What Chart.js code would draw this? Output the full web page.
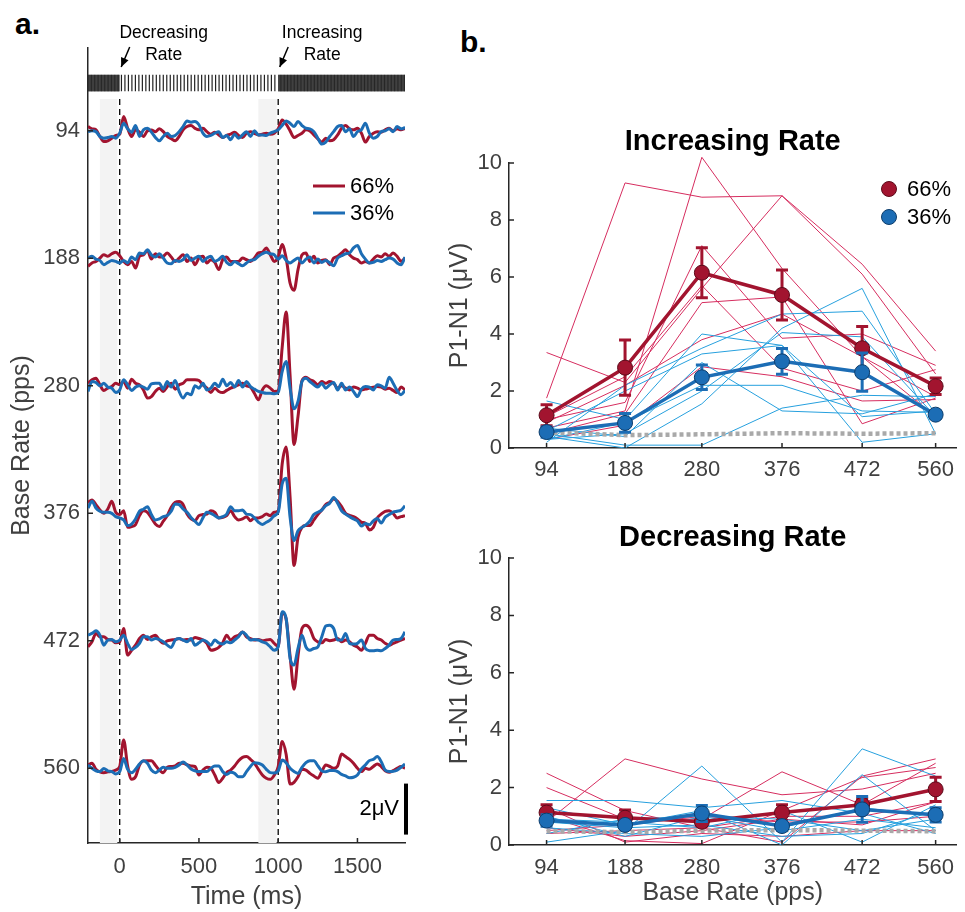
<!DOCTYPE html>
<html>
<head>
<meta charset="utf-8">
<script src="https://cdn.jsdelivr.net/npm/chart.js@4.4.0/dist/chart.umd.min.js"></script>
<style>
  body { margin: 0; background: #fff; width: 965px; height: 912px; position: relative; overflow: hidden;
         font-family: 'Liberation Sans', Arial, Helvetica, sans-serif; }
  canvas { position: absolute; }
  .panel-letter { position: absolute; font-weight: bold; font-size: 30px; line-height: 30px; color: #000; }
</style>
</head>
<body>
<div class="panel-letter" style="left:15px;top:9px">a.</div>
<div class="panel-letter" style="left:460px;top:27px">b.</div>
<canvas id="traces" width="420" height="912" style="left:0;top:0"></canvas>
<canvas id="incChart" width="545" height="490" style="left:420px;top:0"></canvas>
<canvas id="decChart" width="545" height="422" style="left:420px;top:490px"></canvas>
<script>
// ---------- panel a: averaged responses (uV), sampled every 25 ms ----------
const timeMs = [
  -200, -175, -150, -125, -100, -75, -50, -25,
  0, 25, 50, 75, 100, 125, 150, 175,
  200, 225, 250, 275, 300, 325, 350, 375,
  400, 425, 450, 475, 500, 525, 550, 575,
  600, 625, 650, 675, 700, 725, 750, 775,
  800, 825, 850, 875, 900, 925, 950, 975,
  1000, 1025, 1050, 1075, 1100, 1125, 1150, 1175,
  1200, 1225, 1250, 1275, 1300, 1325, 1350, 1375,
  1400, 1425, 1450, 1475, 1500, 1525, 1550, 1575,
  1600, 1625, 1650, 1675, 1700, 1725, 1750, 1775,
  1800
];
const rowRates = ['94', '188', '280', '376', '472', '560'];
const rowOffsets = [25, 20, 15, 10, 5, 0];
const timeTicks = [0, 500, 1000, 1500];

const erp94_66 = [
  0.17, 0.08, 0.04, -0.22, -0.42, -0.39, -0.29, -0.18,
  -0.13, 0.56, 0.10, -0.22, 0.04, -0.05, -0.22, 0.00,
  0.03, -0.03, 0.08, -0.03, -0.22, -0.31, -0.39, -0.22,
  0.04, 0.17, 0.21, 0.10, 0.04, 0.10, -0.03, -0.13,
  -0.05, -0.16, -0.26, -0.18, -0.13, -0.05, -0.18, -0.26,
  -0.09, -0.03, -0.10, -0.16, -0.13, -0.09, -0.13, -0.09,
  0.08, 0.43, 0.26, 0.00, -0.26, -0.18, -0.09, 0.04,
  0.00, -0.16, -0.31, -0.44, -0.29, -0.39, -0.35, -0.16,
  0.10, 0.21, 0.08, 0.04, 0.10, -0.09, -0.44, -0.22,
  -0.09, -0.03, -0.05, 0.04, 0.10, 0.00, 0.08, 0.04,
  0.10
];
const erp94_36 = [
  -0.03, 0.00, -0.03, -0.22, -0.29, -0.26, -0.22, -0.29,
  -0.09, 0.30, 0.08, -0.05, 0.21, -0.22, 0.04, 0.10,
  -0.05, -0.26, -0.39, -0.22, -0.09, -0.22, -0.18, -0.03,
  0.17, 0.39, 0.34, 0.37, 0.24, -0.09, -0.22, -0.18,
  -0.09, -0.03, -0.26, -0.18, -0.35, -0.13, -0.29, -0.16,
  -0.03, -0.22, 0.00, -0.16, -0.16, -0.18, -0.09, -0.03,
  0.04, 0.21, 0.39, 0.30, 0.17, 0.37, 0.21, 0.10,
  0.08, -0.03, -0.29, -0.52, -0.44, -0.22, -0.03, 0.17,
  0.21, -0.03, 0.08, -0.22, -0.03, 0.04, 0.30, -0.09,
  -0.29, -0.22, -0.03, 0.00, 0.08, -0.03, 0.17, 0.08,
  0.13
];
const erp188_66 = [
  -0.31, -0.18, -0.12, 0.01, 0.14, 0.08, 0.18, 0.24,
  0.10, -0.12, -0.25, -0.12, -0.38, 0.08, 0.14, 0.31,
  -0.03, 0.18, 0.05, 0.08, 0.21, 0.05, -0.12, 0.01,
  0.14, -0.12, 0.01, -0.25, 0.01, 0.08, -0.18, -0.05,
  -0.16, -0.44, -0.05, 0.05, -0.12, -0.12, -0.12, 0.01,
  -0.05, -0.12, 0.01, 0.21, 0.24, 0.41, 0.14, -0.12,
  0.05, 0.54, 0.01, -0.97, -1.25, -0.44, 0.14, 0.21,
  -0.12, 0.08, -0.18, -0.08, -0.05, -0.25, 0.01, 0.08,
  0.21, 0.34, 0.14, 0.01, -0.05, -0.18, -0.12, -0.18,
  -0.03, 0.10, 0.05, 0.18, 0.08, 0.21, 0.08, -0.12,
  0.01
];
const erp188_36 = [
  0.01, 0.08, -0.03, -0.08, -0.25, -0.16, -0.08, -0.12,
  -0.18, -0.08, -0.18, 0.05, -0.05, 0.21, 0.18, 0.34,
  0.14, 0.05, 0.18, 0.01, -0.18, -0.21, -0.08, -0.12,
  -0.05, 0.14, -0.08, 0.01, 0.08, -0.12, 0.01, 0.08,
  -0.12, -0.05, 0.08, -0.16, -0.25, -0.12, -0.21, -0.29,
  -0.18, -0.08, -0.05, 0.08, 0.18, 0.24, 0.18, 0.14,
  -0.03, 0.10, -0.08, -0.18, -0.08, 0.01, -0.18, -0.03,
  0.05, -0.18, -0.03, -0.16, -0.08, -0.18, -0.29, 0.01,
  0.10, 0.18, 0.21, 0.41, 0.50, 0.18, -0.03, -0.18,
  -0.16, -0.08, -0.12, -0.05, 0.01, -0.03, -0.18, -0.25,
  0.05
];
const erp280_66 = [
  0.10, 0.24, 0.30, 0.04, -0.18, -0.09, -0.03, 0.10,
  0.04, 0.17, -0.09, 0.26, 0.10, 0.04, -0.16, -0.48,
  -0.42, -0.22, -0.09, -0.22, -0.03, 0.10, -0.13, 0.04,
  0.10, 0.24, 0.24, 0.24, 0.21, 0.04, -0.09, -0.26,
  -0.09, -0.22, -0.26, -0.18, -0.09, -0.03, 0.04, 0.10,
  0.00, -0.05, -0.29, -0.55, -0.16, 0.00, -0.09, -0.22,
  -0.20, 1.50, 2.90, 0.40, -2.30, -1.20, 0.20, 0.34,
  0.24, 0.17, 0.04, 0.17, 0.10, 0.17, 0.10, -0.09,
  0.00, -0.09, -0.16, -0.05, -0.09, -0.16, -0.13, -0.09,
  -0.05, -0.03, -0.05, -0.13, -0.09, -0.18, -0.26, -0.05,
  -0.16
];
const erp280_36 = [
  -0.22, 0.17, 0.13, 0.00, 0.10, -0.05, -0.09, -0.26,
  -0.16, 0.24, 0.04, -0.18, -0.05, 0.00, -0.05, -0.13,
  0.08, 0.10, 0.10, -0.13, 0.17, -0.05, 0.21, -0.22,
  -0.48, -0.29, -0.35, 0.00, -0.09, 0.10, -0.16, -0.09,
  0.10, -0.03, 0.26, 0.00, 0.13, -0.05, 0.21, -0.05,
  0.17, -0.03, -0.13, -0.22, -0.26, -0.29, -0.29, -0.31,
  -0.26, 0.56, 0.95, -0.09, -0.90, -0.61, 0.17, 0.30,
  0.17, 0.04, -0.05, 0.10, -0.09, 0.04, 0.13, -0.16,
  0.10, -0.16, -0.05, -0.22, -0.42, -0.13, -0.03, -0.05,
  -0.16, 0.04, 0.00, -0.09, 0.34, 0.10, -0.18, -0.35,
  -0.18
];
const erp376_66 = [
  0.43, 0.52, 0.34, 0.13, 0.00, 0.17, 0.47, 0.04,
  -0.05, 0.10, -0.55, -0.52, -0.44, -0.09, 0.10, 0.04,
  -0.18, -0.42, -0.52, -0.31, -0.09, 0.24, 0.43, 0.46,
  0.34, -0.03, -0.22, -0.29, -0.09, -0.05, -0.03, 0.10,
  0.04, -0.18, -0.16, -0.09, 0.10, -0.13, -0.26, -0.22,
  -0.13, -0.29, -0.18, -0.18, -0.13, -0.03, -0.09, 0.04,
  0.10, 1.93, 2.60, 0.63, -2.05, -0.94, -0.55, -0.48,
  -0.48, -0.26, -0.05, 0.13, 0.34, 0.43, 0.56, 0.47,
  0.26, 0.00, -0.08, -0.13, -0.22, -0.35, -0.39, -0.65,
  -0.55, -0.18, -0.03, 0.08, 0.10, 0.00, -0.18, -0.13,
  -0.09
];
const erp376_36 = [
  0.21, 0.47, 0.21, 0.08, 0.04, 0.04, 0.00, -0.13,
  -0.18, -0.26, -0.48, -0.42, -0.22, 0.08, 0.16, 0.26,
  -0.05, -0.26, -0.22, -0.13, -0.09, 0.08, 0.37, 0.34,
  0.17, 0.04, -0.16, -0.31, -0.44, -0.18, 0.04, 0.00,
  -0.09, -0.18, -0.13, -0.03, 0.26, 0.10, 0.10, 0.13,
  -0.03, -0.05, -0.18, -0.35, -0.44, -0.35, -0.26, -0.09,
  0.04, 1.15, 1.38, -0.16, -1.07, -0.68, -0.55, -0.45,
  -0.30, -0.05, 0.04, 0.13, 0.30, 0.40, 0.62, 0.40,
  0.10, -0.03, -0.13, -0.22, -0.30, -0.50, -0.40, -0.45,
  -0.30, -0.20, -0.38, -0.15, -0.05, 0.05, 0.08, 0.12,
  0.30
];
const erp472_66 = [
  -0.24, -0.04, 0.29, 0.16, 0.16, 0.05, 0.03, -0.08,
  -0.04, 0.48, -0.56, -0.37, -0.17, 0.09, 0.22, 0.05,
  0.16, 0.22, 0.03, -0.10, 0.00, 0.03, 0.05, 0.09,
  0.03, 0.05, 0.03, 0.13, 0.09, 0.03, -0.10, -0.37,
  -0.34, -0.26, -0.08, 0.22, 0.03, 0.16, 0.22, 0.35,
  0.16, 0.09, 0.03, 0.05, 0.00, 0.03, 0.05, -0.10,
  -0.21, 1.10, 0.85, -0.60, -1.90, -0.60, 0.48, 0.61,
  0.48, 0.09, -0.04, -0.08, 0.05, 0.00, 0.03, 0.09,
  -0.04, 0.03, -0.04, -0.17, -0.24, -0.37, -0.10, 0.22,
  0.22, 0.09, 0.03, -0.10, -0.17, -0.10, -0.04, 0.03,
  0.09
];
const erp472_36 = [
  0.22, 0.29, 0.39, 0.22, -0.17, 0.03, 0.05, -0.04,
  0.03, 0.22, -0.10, -0.34, -0.26, -0.10, 0.16, 0.16,
  0.03, 0.09, 0.05, -0.04, -0.17, -0.26, 0.03, 0.09,
  0.03, -0.04, 0.09, -0.17, -0.08, 0.03, -0.04, -0.17,
  0.03, -0.08, -0.13, -0.04, -0.08, 0.03, 0.16, 0.35,
  0.22, 0.03, 0.05, 0.03, -0.04, -0.10, -0.24, -0.37,
  -0.24, 1.14, 0.88, -0.69, -0.95, -0.30, 0.22, -0.24,
  -0.37, -0.30, -0.24, 0.16, 0.58, 0.61, 0.48, 0.03,
  0.03, 0.29, -0.10, -0.13, -0.10, 0.03, -0.30, -0.39,
  -0.39, -0.37, -0.39, -0.30, -0.17, 0.03, 0.05, 0.09,
  0.35
];
const erp560_66 = [
  0.13, 0.20, -0.04, -0.14, -0.17, -0.14, -0.12, -0.07,
  0.07, 1.11, 0.09, -0.43, -0.33, 0.13, 0.29, 0.30,
  0.30, 0.12, -0.07, -0.17, 0.04, 0.07, 0.09, 0.20,
  0.20, 0.14, 0.09, 0.07, -0.26, -0.07, 0.04, 0.00,
  -0.26, -0.56, -0.39, -0.17, -0.07, 0.09, 0.30, 0.43,
  0.46, 0.35, 0.20, -0.04, -0.26, -0.39, -0.43, -0.27,
  0.07, 1.05, 0.55, -0.62, -0.55, -0.33, -0.04, -0.07,
  -0.20, -0.30, -0.39, -0.13, 0.13, 0.07, 0.00, 0.09,
  0.56, 0.46, 0.35, 0.20, 0.00, -0.13, 0.00, -0.04,
  0.07, 0.17, 0.07, -0.10, -0.16, -0.09, 0.00, 0.07,
  0.00
];
const erp560_36 = [
  0.13, 0.00, -0.10, -0.13, -0.01, -0.10, -0.13, -0.22,
  -0.13, 0.38, -0.04, -0.17, -0.04, 0.17, 0.30, 0.20,
  -0.07, -0.17, -0.07, 0.04, 0.00, 0.00, 0.04, 0.13,
  0.25, 0.13, -0.03, -0.10, -0.13, -0.13, -0.13, 0.00,
  0.09, 0.09, -0.13, -0.24, -0.16, -0.20, -0.33, -0.33,
  -0.13, 0.07, 0.22, 0.20, 0.13, -0.04, -0.17, -0.18,
  -0.10, 0.33, 0.22, 0.00, -0.13, -0.20, 0.04, 0.22,
  0.30, 0.30, 0.10, -0.10, -0.14, -0.09, -0.09, -0.13,
  -0.24, -0.30, -0.37, -0.35, -0.26, -0.03, 0.13, 0.30,
  0.35, 0.46, 0.26, -0.07, -0.13, -0.12, -0.07, 0.04,
  0.17
];

// stimulus pulse train drawn above the traces (ms)
const pulseTrains = [
  { from: -200, to: 0, period: 9, dense: true },
  { from: 0, to: 1000, period: 22, dense: false },
  { from: 1000, to: 1800, period: 9, dense: true }
];
const shadedWindows = [[-125, -15], [875, 990]];
const rateChanges = [
  { time: 0, lines: ['Decreasing', 'Rate'] },
  { time: 1000, lines: ['Increasing', 'Rate'] }
];
const scaleBarUv = 2;

// ---------- panel b: P1-N1 amplitudes (uV) ----------
const baseRates = [94, 188, 280, 376, 472, 560];

const incMean66 = [1.15, 2.82, 6.15, 5.37, 3.5, 2.17];
const incSem66 = [0.37, 0.97, 0.88, 0.88, 0.76, 0.29];
const incMean36 = [0.56, 0.88, 2.48, 3.04, 2.66, 1.17];
const incSem36 = [0.18, 0.33, 0.43, 0.45, 0.67, 0.12];
const incFloor = [0.55, 0.45, 0.48, 0.52, 0.5, 0.52];
const incSubj66 = [
  [1.75, 9.3, 8.8, 8.85, 6.45, 3.4],
  [0.7, 1.3, 10.2, 6.3, 3.2, 1.8],
  [3.35, 2.3, 5.6, 8.85, 6.1, 2.6],
  [1.0, 1.6, 7.1, 3.85, 4.0, 2.9],
  [0.5, 1.2, 5.1, 5.3, 0.85, 1.75],
  [0.9, 2.2, 3.8, 4.7, 3.2, 1.1],
  [0.3, 0.8, 2.85, 2.5, 1.65, 1.7],
  [1.1, 2.5, 5.7, 2.8, 2.0, 2.75]
];
const incSubj36 = [
  [1.65, 1.0, 4.0, 3.6, 1.1, 1.3],
  [0.2, 2.2, 3.5, 4.7, 4.8, 1.2],
  [0.5, 0.1, 0.1, 1.4, 1.85, 1.8],
  [0.3, 0.9, 2.2, 2.2, 1.3, 1.25],
  [0.4, 0.0, 1.55, 4.2, 5.6, 0.5],
  [0.6, 2.0, 3.3, 3.6, 0.2, 0.5],
  [0.3, 0.5, 2.0, 4.05, 3.9, 1.1],
  [0.7, 0.4, 3.0, 1.3, 1.2, 1.9]
];

const decMean66 = [1.13, 0.95, 0.81, 1.13, 1.4, 1.94];
const decSem66 = [0.27, 0.27, 0.15, 0.27, 0.2, 0.42];
const decMean36 = [0.85, 0.7, 1.1, 0.66, 1.24, 1.05];
const decSem36 = [0.2, 0.12, 0.28, 0.15, 0.45, 0.25];
const decFloor = [0.48, 0.45, 0.5, 0.52, 0.5, 0.48];
const decSubj66 = [
  [0.8, 3.0, 2.3, 1.75, 1.95, 2.5],
  [2.5, 1.2, 0.6, 0.1, 2.4, 3.0],
  [2.0, 0.9, 0.9, 2.55, 1.4, 2.85],
  [1.0, 0.15, 0.05, 1.2, 2.35, 2.7],
  [0.5, 0.7, 1.0, 0.8, 0.8, 1.0],
  [1.3, 0.1, 0.4, 0.3, 0.5, 0.5],
  [0.4, 0.5, 0.6, 1.0, 1.0, 1.5],
  [0.6, 0.3, 0.5, 0.9, 0.7, 1.5]
];
const decSubj36 = [
  [1.55, 1.55, 1.3, 1.55, 1.1, 0.4],
  [0.1, 0.5, 2.75, 0.1, 3.35, 2.4],
  [1.3, 0.7, 1.2, 0.0, 2.45, 0.5],
  [0.9, 0.8, 0.6, 1.2, 0.1, 1.4],
  [0.6, 0.4, 0.3, 0.6, 1.3, 1.0],
  [0.4, 0.9, 1.0, 0.9, 0.5, 0.9],
  [1.0, 0.3, 1.0, 0.5, 0.9, 0.6],
  [0.8, 0.6, 0.7, 0.3, 0.4, 1.2]
];

// ---------- styling ----------
const FONT = "'Liberation Sans', Arial, Helvetica, sans-serif";
const AXIS = '#262626';
const TEXT = '#404040';
const RED = '#A2142F', RED_EDGE = '#5c0a1a';
const BLUE = '#1c6db5', BLUE_EDGE = '#0d3d6b';
const SUBJ_RED = 'rgb(214,45,95)';
const SUBJ_BLUE = 'rgb(38,160,222)';

Chart.defaults.font.family = FONT;
Chart.defaults.font.size = 22;
Chart.defaults.color = TEXT;
Chart.defaults.animation = false;

// MATLAB style ticks pointing into the axes
const inwardTicks = {
  id: 'inwardTicks',
  afterDatasetsDraw(chart) {
    const { ctx, chartArea } = chart;
    const xs = chart.scales.x, ys = chart.scales.y;
    ctx.save();
    ctx.strokeStyle = AXIS;
    ctx.lineWidth = 1.5;
    ctx.beginPath();
    xs.ticks.forEach(t => {
      const px = xs.getPixelForValue(t.value);
      ctx.moveTo(px, chartArea.bottom);
      ctx.lineTo(px, chartArea.bottom - 5);
    });
    ys.ticks.forEach(t => {
      const py = ys.getPixelForValue(t.value);
      ctx.moveTo(chartArea.left, py);
      ctx.lineTo(chartArea.left + 5, py);
    });
    ctx.stroke();
    ctx.restore();
  }
};

function drawArrow(ctx, x1, y1, x2, y2) {
  ctx.beginPath();
  ctx.moveTo(x1, y1);
  ctx.lineTo(x2, y2);
  ctx.stroke();
  const a = Math.atan2(y2 - y1, x2 - x1), h = 10;
  ctx.beginPath();
  ctx.moveTo(x2, y2);
  ctx.lineTo(x2 - h * Math.cos(a - 0.42), y2 - h * Math.sin(a - 0.42));
  ctx.lineTo(x2 - h * Math.cos(a + 0.42), y2 - h * Math.sin(a + 0.42));
  ctx.closePath();
  ctx.fill();
}

// background + annotations for the traces panel
const traceDecor = {
  id: 'traceDecor',
  beforeDatasetsDraw(chart) {
    const { ctx, chartArea } = chart;
    const xs = chart.scales.x, ys = chart.scales.y;
    const bandTop = ys.getPixelForValue(27.2);
    const bandBottom = ys.getPixelForValue(26.55);
    const shadeTop = ys.getPixelForValue(26.25);
    ctx.save();
    // grey baseline windows
    ctx.fillStyle = '#f3f3f3';
    shadedWindows.forEach(([a, b]) => {
      const x1 = xs.getPixelForValue(a), x2 = xs.getPixelForValue(b);
      ctx.fillRect(x1, shadeTop, x2 - x1, chartArea.bottom - shadeTop);
    });
    // pulse train
    pulseTrains.forEach(seg => {
      const x1 = xs.getPixelForValue(seg.from), x2 = xs.getPixelForValue(seg.to);
      if (seg.dense) {
        ctx.fillStyle = '#5e5e5e';
        ctx.fillRect(x1, bandTop, x2 - x1, bandBottom - bandTop);
      }
      ctx.strokeStyle = seg.dense ? '#262626' : '#222';
      ctx.lineWidth = seg.dense ? 1 : 1.2;
      ctx.beginPath();
      for (let t = seg.from + seg.period / 2; t < seg.to; t += seg.period) {
        const px = xs.getPixelForValue(t);
        ctx.moveTo(px, bandTop);
        ctx.lineTo(px, bandBottom);
      }
      ctx.stroke();
    });
    // dashed rate-change markers
    ctx.strokeStyle = '#000';
    ctx.lineWidth = 1.3;
    ctx.setLineDash([6, 4]);
    rateChanges.forEach(rc => {
      const px = xs.getPixelForValue(rc.time);
      ctx.beginPath();
      ctx.moveTo(px, shadeTop);
      ctx.lineTo(px, chartArea.bottom);
      ctx.stroke();
    });
    ctx.restore();
  },
  afterDraw(chart) {
    const { ctx, chartArea } = chart;
    const xs = chart.scales.x, ys = chart.scales.y;
    ctx.save();
    // annotations above the pulse train
    ctx.fillStyle = '#000';
    ctx.strokeStyle = '#000';
    ctx.lineWidth = 1.5;
    ctx.font = '17.5px ' + FONT;
    ctx.textAlign = 'center';
    ctx.textBaseline = 'middle';
    rateChanges.forEach(rc => {
      const px = xs.getPixelForValue(rc.time);
      ctx.fillText(rc.lines[0], px + 44, chartArea.top - 15);
      ctx.fillText(rc.lines[1], px + 44, chartArea.top + 7);
      drawArrow(ctx, px + 10, chartArea.top - 1, px + 1.5, chartArea.top + 19);
    });
    // legend
    const items = [
      { label: '66%', color: RED },
      { label: '36%', color: BLUE }
    ];
    ctx.font = '22px ' + FONT;
    ctx.textAlign = 'left';
    items.forEach((it, i) => {
      const y = chartArea.top + 138 + i * 27;
      ctx.strokeStyle = it.color;
      ctx.lineWidth = 3;
      ctx.beginPath();
      ctx.moveTo(chartArea.left + 225, y);
      ctx.lineTo(chartArea.left + 257, y);
      ctx.stroke();
      ctx.fillStyle = '#000';
      ctx.fillText(it.label, chartArea.left + 262, y + 1);
    });
    // 2 uV scale bar
    const barX = chartArea.right + 1;
    const y1 = ys.getPixelForValue(-2.6), y2 = ys.getPixelForValue(-2.6 + scaleBarUv);
    ctx.strokeStyle = '#000';
    ctx.lineWidth = 4;
    ctx.beginPath();
    ctx.moveTo(barX, y1);
    ctx.lineTo(barX, y2);
    ctx.stroke();
    ctx.textAlign = 'right';
    ctx.fillStyle = '#000';
    ctx.fillText(scaleBarUv + 'μV', barX - 7, (y1 + y2) / 2);
    ctx.restore();
  }
};

// ---------- panel a chart ----------
const traceRows = [
  [erp94_66, erp94_36], [erp188_66, erp188_36], [erp280_66, erp280_36],
  [erp376_66, erp376_36], [erp472_66, erp472_36], [erp560_66, erp560_36]
];
const traceDatasets = [];
rowRates.forEach((rate, i) => {
  const off = rowOffsets[i];
  traceDatasets.push({
    label: '66% ' + rate,
    data: timeMs.map((t, k) => ({ x: t, y: traceRows[i][0][k] + off })),
    borderColor: RED, borderWidth: 3, pointRadius: 0,
    cubicInterpolationMode: 'monotone', order: 2
  });
  traceDatasets.push({
    label: '36% ' + rate,
    data: timeMs.map((t, k) => ({ x: t, y: traceRows[i][1][k] + off })),
    borderColor: BLUE, borderWidth: 3, pointRadius: 0,
    cubicInterpolationMode: 'monotone', order: 1
  });
});

new Chart(document.getElementById('traces'), {
  type: 'line',
  data: { datasets: traceDatasets },
  options: {
    responsive: false,
    layout: { padding: { top: 48, right: 15, left: 0, bottom: 0 } },
    plugins: { legend: { display: false }, tooltip: { enabled: false } },
    scales: {
      x: {
        type: 'linear', min: -200, max: 1800,
        afterBuildTicks: s => { s.ticks = timeTicks.map(v => ({ value: v })); },
        afterFit: s => { s.height = 69; },
        grid: { display: false, drawTicks: false },
        border: { display: true, color: AXIS, width: 1.5 },
        ticks: { padding: 11, maxRotation: 0, font: { size: 22 }, callback: v => String(v) },
        title: { display: true, text: 'Time (ms)', font: { size: 25 }, padding: { top: 0, bottom: 0 } }
      },
      y: {
        type: 'linear', min: -2.93, max: 28.25,
        afterBuildTicks: s => { s.ticks = rowOffsets.map(v => ({ value: v })); },
        afterFit: s => { s.width = 88; },
        grid: { display: false, drawTicks: false },
        border: { display: true, color: AXIS, width: 1.5 },
        ticks: { padding: 8, font: { size: 22 }, callback: v => rowRates[rowOffsets.indexOf(v)] },
        title: { display: true, text: 'Base Rate (pps)', font: { size: 25 }, padding: { top: 7, bottom: 0 } }
      }
    }
  },
  plugins: [traceDecor, inwardTicks]
});

// ---------- panel b charts ----------
const errorBars = {
  id: 'errorBars',
  beforeDatasetDraw(chart, args) {
    const ds = chart.data.datasets[args.index];
    if (!ds.errorBars) return;
    const { ctx } = chart;
    const xs = chart.scales.x, ys = chart.scales.y;
    ctx.save();
    ctx.strokeStyle = ds.borderColor;
    ctx.lineWidth = 3;
    ctx.beginPath();
    ds.data.forEach((p, i) => {
      const px = xs.getPixelForValue(p.x);
      const top = ys.getPixelForValue(p.y + ds.errorBars[i]);
      const bot = ys.getPixelForValue(p.y - ds.errorBars[i]);
      ctx.moveTo(px, top); ctx.lineTo(px, bot);
      ctx.moveTo(px - 6, top); ctx.lineTo(px + 6, top);
      ctx.moveTo(px - 6, bot); ctx.lineTo(px + 6, bot);
    });
    ctx.stroke();
    ctx.restore();
  }
};

const markerLegend = {
  id: 'markerLegend',
  afterDraw(chart) {
    const { ctx, chartArea } = chart;
    const items = [
      { label: '66%', fill: RED, edge: RED_EDGE },
      { label: '36%', fill: BLUE, edge: BLUE_EDGE }
    ];
    ctx.save();
    ctx.font = '22px ' + FONT;
    ctx.textAlign = 'left';
    ctx.textBaseline = 'middle';
    items.forEach((it, i) => {
      const x = chartArea.left + 380, y = chartArea.top + 26 + i * 28;
      ctx.beginPath();
      ctx.arc(x, y, 7.5, 0, Math.PI * 2);
      ctx.fillStyle = it.fill;
      ctx.fill();
      ctx.strokeStyle = it.edge;
      ctx.lineWidth = 1;
      ctx.stroke();
      ctx.fillStyle = '#000';
      ctx.fillText(it.label, x + 18, y + 1);
    });
    ctx.restore();
  }
};

function rateDatasets(subj66, subj36, mean66, sem66, mean36, sem36, floor) {
  const pts = arr => arr.map((v, i) => ({ x: baseRates[i], y: v }));
  const ds = [];
  subj66.forEach(s => ds.push({
    data: pts(s), borderColor: SUBJ_RED, borderWidth: 1, pointRadius: 0, order: 6, clip: false
  }));
  subj36.forEach(s => ds.push({
    data: pts(s), borderColor: SUBJ_BLUE, borderWidth: 1, pointRadius: 0, order: 5, clip: false
  }));
  ds.push({
    data: pts(floor), borderColor: '#a9a9a9', borderWidth: 4.5, borderDash: [4, 3],
    pointRadius: 0, order: 4
  });
  ds.push({
    data: pts(mean66), borderColor: RED, borderWidth: 3.5, pointRadius: 7.5,
    pointBackgroundColor: RED, pointBorderColor: RED_EDGE, pointBorderWidth: 1,
    order: 2, errorBars: sem66, clip: false
  });
  ds.push({
    data: pts(mean36), borderColor: BLUE, borderWidth: 3.5, pointRadius: 7.5,
    pointBackgroundColor: BLUE, pointBorderColor: BLUE_EDGE, pointBorderWidth: 1,
    order: 1, errorBars: sem36, clip: false
  });
  return ds;
}

function rateChart(id, title, datasets, opts) {
  const xTitle = opts.xTitle
    ? { display: true, text: 'Base Rate (pps)', font: { size: 25 }, padding: { top: 0, bottom: 4 } }
    : { display: false };
  return new Chart(document.getElementById(id), {
    type: 'line',
    data: { datasets },
    options: {
      responsive: false,
      layout: { padding: { top: 0, right: 5, left: 0, bottom: 0 } },
      plugins: {
        legend: { display: false },
        tooltip: { enabled: false },
        title: {
          display: true, text: title, color: '#000', fullSize: false,
          font: { size: 29, weight: 'bold' },
          padding: { top: opts.titleTop, bottom: opts.titleBottom }
        }
      },
      scales: {
        x: {
          type: 'linear', min: 49, max: 585,
          afterBuildTicks: s => { s.ticks = baseRates.map(v => ({ value: v })); },
          afterFit: s => { s.height = opts.xHeight; },
          grid: { display: false, drawTicks: false },
          border: { display: true, color: AXIS, width: 1.5 },
          ticks: { padding: opts.xPad, maxRotation: 0, font: { size: 22 }, callback: v => String(v) },
          title: xTitle
        },
        y: {
          type: 'linear', min: 0, max: 10,
          afterFit: s => { s.width = 89; },
          grid: { display: false, drawTicks: false },
          border: { display: true, color: AXIS, width: 1.5 },
          ticks: { stepSize: 2, padding: 7, font: { size: 22 } },
          title: { display: true, text: 'P1-N1 (μV)', font: { size: 25 }, padding: { top: 25, bottom: 0 } }
        }
      }
    },
    plugins: opts.legend ? [errorBars, inwardTicks, markerLegend] : [errorBars, inwardTicks]
  });
}

rateChart('incChart', 'Increasing Rate',
  rateDatasets(incSubj66, incSubj36, incMean66, incSem66, incMean36, incSem36, incFloor),
  { titleTop: 124.6, titleBottom: 3.6, xHeight: 42, xPad: 9, xTitle: false, legend: true });

rateChart('decChart', 'Decreasing Rate',
  rateDatasets(decSubj66, decSubj36, decMean66, decSem66, decMean36, decSem36, decFloor),
  { titleTop: 30.6, titleBottom: 2.6, xHeight: 67, xPad: 10, xTitle: true, legend: false });
</script>
</body>
</html>
